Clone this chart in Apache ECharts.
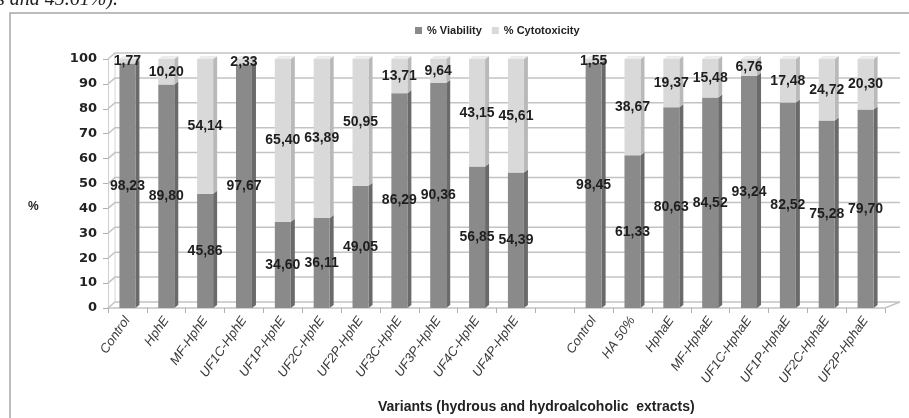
<!DOCTYPE html>
<html>
<head>
<meta charset="utf-8">
<script src="https://cdn.jsdelivr.net/npm/echarts@6/dist/echarts.min.js"></script>
<style>
  html, body { margin: 0; padding: 0; background: #ffffff; }
  #chart { width: 909px; height: 418px; }
</style>
</head>
<body>
<div id="chart"></div>
<script>
// Variants tested: hydrous extracts, a blank spacer slot, then hydroalcoholic extracts
const categories = ['Control', 'HphE', 'MF-HphE', 'UF1C-HphE', 'UF1P-HphE', 'UF2C-HphE', 'UF2P-HphE',
  'UF3C-HphE', 'UF3P-HphE', 'UF4C-HphE', 'UF4P-HphE', '',
  'Control', 'HA 50%', 'HphaE', 'MF-HphaE', 'UF1C-HphaE', 'UF1P-HphaE', 'UF2C-HphaE', 'UF2P-HphaE'];

// % Viability per variant
const viability = [98.23, 89.80, 45.86, 97.67, 34.60, 36.11, 49.05, 86.29, 90.36, 56.85, 54.39, null,
  98.45, 61.33, 80.63, 84.52, 93.24, 82.52, 75.28, 79.70];

// % Cytotoxicity per variant
const cytotoxicity = [1.77, 10.20, 54.14, 2.33, 65.40, 63.89, 50.95, 13.71, 9.64, 43.15, 45.61, null,
  1.55, 38.67, 19.37, 15.48, 6.76, 17.48, 24.72, 20.30];

// Value axis ticks
const yTicks = [0, 10, 20, 30, 40, 50, 60, 70, 80, 90, 100];

const DARK = '#8a8a8a', DARK_SIDE = '#6a6a6a';
const LIGHT = '#d9d9d9', LIGHT_SIDE = '#b9b9b9', TOP_FACE = '#ececec';
const GRID_LINE = '#c3c3c3';
const DEPTH_X = 7, DEPTH_Y = 6;     // back wall offset
const BAR_HALF = 8, SIDE_X = 4, SIDE_Y = 3; // bar front half width and side depth

const comma = v => v.toFixed(2).replace('.', ',');

const chart = echarts.init(document.getElementById('chart'), null, { renderer: 'canvas' });

// Back wall, left wall and floor lines drawn from the value scale
function renderWall(params, api) {
  const cs = params.coordSys;
  const t = api.value(1);
  const y = api.coord([0, t])[1];
  const x0 = cs.x, x1 = cs.x + cs.width;
  const children = [{
    type: 'polyline',
    shape: { points: [[x0, y], [x0 + DEPTH_X, y - DEPTH_Y], [x1 + DEPTH_X + 8, y - DEPTH_Y]] },
    style: { stroke: GRID_LINE, lineWidth: 1.5, fill: null }
  }];
  if (t === 0) {
    children.push({
      type: 'line',
      shape: { x1: x1, y1: y, x2: x1 + DEPTH_X + 8, y2: y - DEPTH_Y },
      style: { stroke: GRID_LINE, lineWidth: 1.5 }
    });
    children.push({
      type: 'line',
      shape: { x1: x0 + DEPTH_X, y1: y - DEPTH_Y, x2: x0 + DEPTH_X, y2: api.coord([0, 100])[1] - DEPTH_Y },
      style: { stroke: '#d6d6d6', lineWidth: 1 }
    });
  }
  return { type: 'group', children: children };
}

// Side and top faces giving the columns their depth
function renderDepth(params, api) {
  const i = api.value(0), v = api.value(1), c = api.value(2);
  if (isNaN(v) || isNaN(c)) return;
  const p0 = api.coord([i, 0]);
  const p1 = api.coord([i, v]);
  const p2 = api.coord([i, v + c]);
  const xr = p0[0] + BAR_HALF, xl = p0[0] - BAR_HALF;
  const side = (ya, yb, fill) => ({
    type: 'polygon',
    shape: { points: [[xr, ya], [xr, yb], [xr + SIDE_X, yb - SIDE_Y], [xr + SIDE_X, ya - SIDE_Y]] },
    style: { fill: fill }
  });
  return {
    type: 'group',
    children: [
      side(p0[1], p1[1], DARK_SIDE),
      side(p1[1], p2[1], LIGHT_SIDE),
      {
        type: 'polygon',
        shape: { points: [[xl, p2[1]], [xr, p2[1]], [xr + SIDE_X, p2[1] - SIDE_Y], [xl + SIDE_X, p2[1] - SIDE_Y]] },
        style: { fill: TOP_FACE }
      }
    ]
  };
}

const labelStyle = {
  show: true,
  position: 'inside',
  color: '#1e1e1e',
  fontFamily: 'Liberation Sans',
  fontWeight: 'bold',
  fontSize: 14,
  formatter: p => (p.value == null ? '' : comma(p.value))
};

chart.setOption({
  animation: false,
  backgroundColor: '#ffffff',
  legend: {
    top: 20,
    left: 410,
    itemWidth: 7,
    itemHeight: 7,
    itemGap: 10,
    icon: 'rect',
    textStyle: { fontFamily: 'Liberation Sans', fontWeight: 'bold', fontSize: 11, color: '#222' },
    data: ['% Viability', '% Cytotoxicity']
  },
  grid: { left: 108, right: 24, top: 59, bottom: 110, containLabel: false },
  xAxis: {
    type: 'category',
    data: categories,
    boundaryGap: true,
    axisLine: { show: true, lineStyle: { color: GRID_LINE, width: 1.5 } },
    axisTick: { show: true, length: 5, lineStyle: { color: '#b0b0b0' } },
    axisLabel: {
      interval: 0,
      rotate: 55,
      margin: 10,
      color: '#3a3a3a',
      fontFamily: 'Liberation Sans',
      fontStyle: 'italic',
      fontSize: 13
    }
  },
  yAxis: {
    type: 'value',
    min: 0,
    max: 100,
    interval: 10,
    axisLine: { show: true, lineStyle: { color: '#cfcfcf', width: 1 } },
    axisTick: { show: true, inside: false, length: 5, lineStyle: { color: '#b0b0b0' } },
    splitLine: { show: false },
    axisLabel: {
      margin: 11,
      color: '#222',
      fontFamily: 'DejaVu Sans',
      fontWeight: 'bold',
      fontSize: 13
    }
  },
  series: [
    {
      type: 'custom',
      name: 'wall',
      silent: true,
      z: 1,
      renderItem: renderWall,
      data: yTicks.map(t => [0, t])
    },
    {
      type: 'custom',
      name: 'depth',
      silent: true,
      z: 2,
      renderItem: renderDepth,
      data: categories.map((c, i) => [i, viability[i] == null ? NaN : viability[i], cytotoxicity[i] == null ? NaN : cytotoxicity[i]])
    },
    {
      type: 'bar',
      name: '% Viability',
      stack: 'total',
      barWidth: BAR_HALF * 2,
      z: 3,
      itemStyle: { color: DARK },
      label: labelStyle,
      data: viability
    },
    {
      type: 'bar',
      name: '% Cytotoxicity',
      stack: 'total',
      barWidth: BAR_HALF * 2,
      z: 3,
      itemStyle: { color: LIGHT },
      label: labelStyle,
      data: cytotoxicity
    }
  ],
  graphic: [
    {
      type: 'text',
      left: -3,
      top: -10,
      style: { text: 's and 45.61%).', fill: '#222', font: 'italic 20px "Liberation Serif"' }
    },
    {
      type: 'polyline',
      shape: { points: [[10, 430], [10, 13], [920, 13]] },
      style: { stroke: '#a6a6a6', lineWidth: 1.5, fill: null }
    },
    {
      type: 'text',
      left: 28,
      top: 201,
      style: { text: '%', fill: '#222', font: 'bold 12px "Liberation Sans"' }
    },
    {
      type: 'text',
      left: 378,
      top: 400,
      style: { text: 'Variants (hydrous and hydroalcoholic  extracts)', fill: '#222', font: 'bold 14px "Liberation Sans"' }
    }
  ]
});
</script>
</body>
</html>
